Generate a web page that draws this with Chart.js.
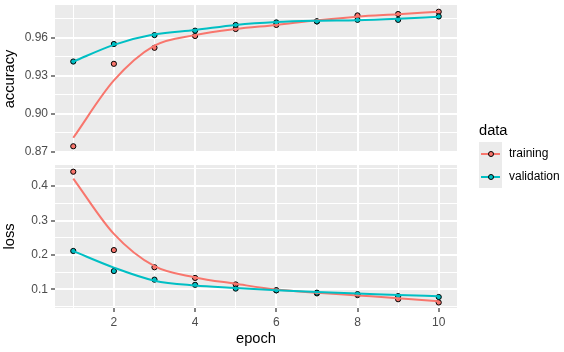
<!DOCTYPE html>
<html>
<head>
<meta charset="utf-8">
<script src="https://cdn.jsdelivr.net/npm/chart.js@4.4.1/dist/chart.umd.min.js"></script>
<style>
  body { margin: 0; background: #fff; font-family: "Liberation Sans", Arial, sans-serif; }
  #wrap { position: relative; width: 564px; height: 352px; }
  canvas { position: absolute; left: 0; }
  #accChart { top: 0; }
  #lossChart { top: 160px; }
  .legend { position: absolute; left: 479px; top: 122px; color: #000; }
  .legend .title { font-size: 14.67px; height: 20px; }
  .legend .row { position: relative; height: 23px; }
  .legend .key { position: absolute; left: 0; top: 0; width: 23px; height: 23px; background: #ebebeb; }
  .legend .key .ln { position: absolute; left: 2px; right: 2px; top: 10.5px; height: 2px; }
  .legend .key .pt { position: absolute; left: 8.5px; top: 8.5px; width: 4px; height: 4px; border: 1px solid #000; border-radius: 50%; }
  .legend .lbl { position: absolute; left: 30px; top: 4px; font-size: 12px; }
</style>
</head>
<body>
<div id="wrap">
  <canvas id="accChart" width="564" height="160"></canvas>
  <canvas id="lossChart" width="564" height="192"></canvas>
  <div class="legend">
    <div class="title">data</div>
    <div class="row"><div class="key"><div class="ln" style="background:#F8766D"></div><div class="pt" style="background:#F8766D"></div></div><div class="lbl">training</div></div>
    <div class="row"><div class="key"><div class="ln" style="background:#00BFC4"></div><div class="pt" style="background:#00BFC4"></div></div><div class="lbl">validation</div></div>
  </div>
</div>
<script>
const epochs = [1, 2, 3, 4, 5, 6, 7, 8, 9, 10];

const accTrain = [0.8745, 0.9394, 0.952, 0.9613, 0.9668, 0.970, 0.9728, 0.9775, 0.9786, 0.9804];
const accVal = [0.9412, 0.955, 0.962, 0.9655, 0.970, 0.972, 0.9728, 0.974, 0.974, 0.9767];
const accTrainSmooth = [0.8812, 0.9263, 0.9537, 0.962, 0.9668, 0.970, 0.9737, 0.9765, 0.9784, 0.9804];
const accValSmooth = [0.9412, 0.9543, 0.9626, 0.966, 0.970, 0.9723, 0.9733, 0.9737, 0.9749, 0.9765];

const lossTrain = [0.442, 0.214, 0.164, 0.133, 0.114, 0.097, 0.088, 0.083, 0.071, 0.0615];
const lossVal = [0.2115, 0.153, 0.128, 0.113, 0.102, 0.097, 0.09, 0.086, 0.080, 0.0775];
const lossTrainSmooth = [0.422, 0.261, 0.167, 0.1345, 0.116, 0.099, 0.090, 0.082, 0.074, 0.065];
const lossValSmooth = [0.211, 0.163, 0.125, 0.111, 0.104, 0.097, 0.092, 0.088, 0.083, 0.080];

// breaks: major ones get labels, minor ones only a thin grid line
const epochTicks = [1, 2, 3, 4, 5, 6, 7, 8, 9, 10];
const epochLabels = [2, 4, 6, 8, 10];
const accTicks = [0.87, 0.885, 0.90, 0.915, 0.93, 0.945, 0.96, 0.975];
const accLabels = ['0.87', '0.90', '0.93', '0.96'];
const lossTicks = [0.05, 0.1, 0.15, 0.2, 0.25, 0.3, 0.35, 0.4, 0.45];
const lossLabels = ['0.1', '0.2', '0.3', '0.4'];

const TRAIN = '#F8766D';
const VAL = '#00BFC4';
const FONT = '"Liberation Sans", Arial, sans-serif';

const panelBg = {
    id: 'panelBg',
    beforeDraw(chart) {
        const { ctx, chartArea: a } = chart;
        ctx.save();
        ctx.fillStyle = '#EBEBEB';
        ctx.fillRect(a.left, a.top, a.right - a.left, a.bottom - a.top);
        ctx.restore();
    }
};

const pts = arr => arr.map((v, i) => ({ x: epochs[i], y: v }));

function makeDatasets(train, val, trainSm, valSm) {
    const line = (data, color) => ({
        data: pts(data), borderColor: color, borderWidth: 2, pointRadius: 0,
        cubicInterpolationMode: 'monotone', fill: false
    });
    const dots = (data, color) => ({
        data: pts(data), showLine: false, pointRadius: 2.6, pointBorderWidth: 1,
        pointBackgroundColor: color, pointBorderColor: '#000'
    });
    // first dataset is drawn on top
    return [line(valSm, VAL), line(trainSm, TRAIN), dots(val, VAL), dots(train, TRAIN)];
}

function yScale(ticks, labels, min, max, title) {
    const fmt = v => {
        const s = labels.find(l => Math.abs(parseFloat(l) - v) < 1e-9);
        return s === undefined ? '' : s;
    };
    const isMajor = v => fmt(v) !== '';
    return {
        type: 'linear', min, max,
        afterBuildTicks: s => { s.ticks = ticks.map(v => ({ value: v })); },
        afterFit: s => { s.width = 55; s.paddingTop = 0; s.paddingBottom = 0; },
        border: { display: false },
        grid: {
            color: '#FFFFFF',
            lineWidth: c => isMajor(c.tick.value) ? 2 : 1,
            tickColor: c => isMajor(c.tick.value) ? '#333333' : 'rgba(0,0,0,0)',
            tickLength: 4, tickWidth: 1.2
        },
        ticks: {
            callback: v => fmt(v), color: '#4D4D4D', padding: 3,
            font: { family: FONT, size: 12 }, autoSkip: false
        },
        title: {
            display: true, text: title, color: '#000',
            font: { family: FONT, size: 14.67 }, padding: { top: 1, bottom: 0 }
        }
    };
}

function xScale(showLabels, height) {
    const isMajor = v => epochLabels.includes(v);
    return {
        type: 'linear', min: 0.55, max: 10.45,
        afterBuildTicks: s => { s.ticks = epochTicks.map(v => ({ value: v })); },
        afterFit: s => { s.height = height; s.paddingLeft = 0; s.paddingRight = 0; },
        border: { display: false },
        grid: {
            color: '#FFFFFF',
            lineWidth: c => isMajor(c.tick.value) ? 2 : 1,
            drawTicks: showLabels,
            tickColor: c => isMajor(c.tick.value) ? '#333333' : 'rgba(0,0,0,0)',
            tickLength: 4, tickWidth: 1.2
        },
        ticks: {
            display: showLabels,
            callback: v => isMajor(v) ? String(v) : '',
            color: '#4D4D4D', padding: 3, maxRotation: 0, autoSkip: false,
            font: { family: FONT, size: 12 }
        },
        title: {
            display: showLabels, text: 'epoch', color: '#000',
            font: { family: FONT, size: 14.67 }, padding: { top: 0, bottom: 4 }
        }
    };
}

function baseOptions(padTop, x, y) {
    return {
        responsive: false, animation: false, devicePixelRatio: 1,
        layout: { padding: { top: padTop, right: 107, left: 0, bottom: 0 } },
        plugins: { legend: { display: false }, tooltip: { enabled: false } },
        scales: { x, y }
    };
}

new Chart(document.getElementById('accChart'), {
    type: 'line',
    data: { datasets: makeDatasets(accTrain, accVal, accTrainSmooth, accValSmooth) },
    options: baseOptions(4, xScale(false, 7), yScale(accTicks, accLabels, 0.8692, 0.9857, 'accuracy')),
    plugins: [panelBg]
});

new Chart(document.getElementById('lossChart'), {
    type: 'line',
    data: { datasets: makeDatasets(lossTrain, lossVal, lossTrainSmooth, lossValSmooth) },
    options: baseOptions(0, xScale(true, 44), yScale(lossTicks, lossLabels, 0.0455, 0.4615, 'loss')),
    plugins: [panelBg]
});
</script>
</body>
</html>
